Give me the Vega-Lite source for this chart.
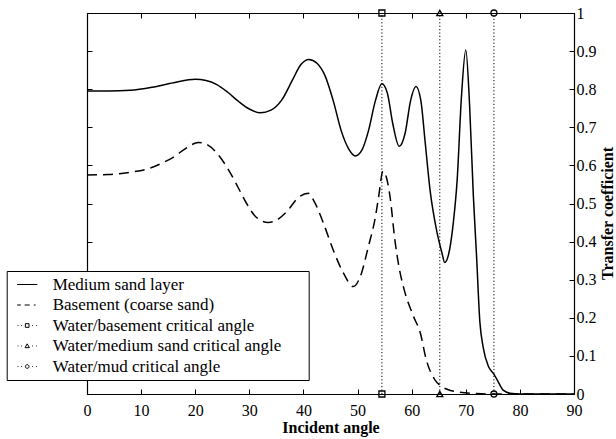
{
  "$schema": "https://vega.github.io/schema/vega-lite/v6.json",
  "width": 487,
  "height": 381,
  "autosize": {"type": "none"},
  "padding": {"left": 87, "top": 13, "right": 42, "bottom": 45},
  "background": "white",
  "config": {
    "view": {"stroke": null},
    "axis": {
      "grid": false,
      "tickSize": -5,
      "tickColor": "black",
      "tickWidth": 1,
      "domainColor": "black",
      "domainWidth": 1.2,
      "labelColor": "black",
      "titleColor": "black",
      "labelFont": "Liberation Serif",
      "titleFont": "Liberation Serif",
      "labelFontSize": 16,
      "titleFontSize": 16,
      "titleFontWeight": "bold",
      "labelFlush": false
    }
  },
  "datasets": {
    "sand": [
      {"angle": 0, "value": 0.795}, {"angle": 4, "value": 0.795}, {"angle": 8, "value": 0.797},
      {"angle": 12, "value": 0.805}, {"angle": 16, "value": 0.817}, {"angle": 20, "value": 0.826},
      {"angle": 22, "value": 0.823}, {"angle": 24, "value": 0.812}, {"angle": 26, "value": 0.792},
      {"angle": 28, "value": 0.768}, {"angle": 30, "value": 0.748}, {"angle": 32, "value": 0.738},
      {"angle": 34, "value": 0.745}, {"angle": 36, "value": 0.772}, {"angle": 38, "value": 0.825},
      {"angle": 39.5, "value": 0.864}, {"angle": 41, "value": 0.878}, {"angle": 42.5, "value": 0.868},
      {"angle": 44, "value": 0.835}, {"angle": 45.5, "value": 0.77}, {"angle": 47, "value": 0.69},
      {"angle": 48.3, "value": 0.645}, {"angle": 49.6, "value": 0.625}, {"angle": 50.8, "value": 0.64},
      {"angle": 52, "value": 0.69}, {"angle": 53.3, "value": 0.77}, {"angle": 54.5, "value": 0.814},
      {"angle": 55.5, "value": 0.79}, {"angle": 56.5, "value": 0.71}, {"angle": 57.7, "value": 0.65},
      {"angle": 58.8, "value": 0.685}, {"angle": 59.8, "value": 0.77}, {"angle": 60.8, "value": 0.807},
      {"angle": 61.7, "value": 0.77}, {"angle": 62.5, "value": 0.66}, {"angle": 63.4, "value": 0.535},
      {"angle": 64.6, "value": 0.43}, {"angle": 65.6, "value": 0.37}, {"angle": 66.1, "value": 0.345},
      {"angle": 66.8, "value": 0.365}, {"angle": 67.7, "value": 0.45}, {"angle": 68.4, "value": 0.56},
      {"angle": 69.2, "value": 0.78}, {"angle": 70, "value": 0.903}, {"angle": 70.7, "value": 0.76},
      {"angle": 71.4, "value": 0.52}, {"angle": 72, "value": 0.36}, {"angle": 72.6, "value": 0.19},
      {"angle": 73.2, "value": 0.124}, {"angle": 74.2, "value": 0.072}, {"angle": 75.1, "value": 0.054},
      {"angle": 76, "value": 0.032}, {"angle": 76.9, "value": 0.01}, {"angle": 78.2, "value": 0.002},
      {"angle": 80, "value": 0}, {"angle": 90, "value": 0}
    ],
    "basement": [
      {"angle": 0, "value": 0.575}, {"angle": 4, "value": 0.576}, {"angle": 8, "value": 0.582},
      {"angle": 11, "value": 0.59}, {"angle": 14, "value": 0.607}, {"angle": 16, "value": 0.622},
      {"angle": 18, "value": 0.642}, {"angle": 20.6, "value": 0.66}, {"angle": 22, "value": 0.656},
      {"angle": 24, "value": 0.632}, {"angle": 26.5, "value": 0.58}, {"angle": 28, "value": 0.54},
      {"angle": 29.5, "value": 0.5}, {"angle": 31, "value": 0.468}, {"angle": 33.5, "value": 0.45},
      {"angle": 35, "value": 0.456}, {"angle": 37, "value": 0.48}, {"angle": 39, "value": 0.515},
      {"angle": 40.9, "value": 0.527}, {"angle": 42, "value": 0.505}, {"angle": 43.7, "value": 0.448},
      {"angle": 45.5, "value": 0.378}, {"angle": 47.4, "value": 0.317}, {"angle": 49.2, "value": 0.282},
      {"angle": 50.5, "value": 0.308}, {"angle": 52, "value": 0.387}, {"angle": 53.3, "value": 0.465},
      {"angle": 53.9, "value": 0.518}, {"angle": 54.7, "value": 0.585}, {"angle": 55.3, "value": 0.57},
      {"angle": 56, "value": 0.518}, {"angle": 56.9, "value": 0.404}, {"angle": 57.7, "value": 0.33},
      {"angle": 58.5, "value": 0.28}, {"angle": 60.3, "value": 0.205}, {"angle": 61.6, "value": 0.16},
      {"angle": 62.7, "value": 0.09}, {"angle": 64.3, "value": 0.037}, {"angle": 65.6, "value": 0.019},
      {"angle": 67, "value": 0.01}, {"angle": 68.3, "value": 0.006}, {"angle": 72, "value": 0.001},
      {"angle": 75, "value": 0}, {"angle": 90, "value": 0}
    ],
    "critical": [
      {"angle": 54.5, "series": "Water/basement critical angle"},
      {"angle": 65.2, "series": "Water/medium sand critical angle"},
      {"angle": 75.2, "series": "Water/mud critical angle"}
    ],
    "legendItems": [
      {"series": "Medium sand layer"},
      {"series": "Basement (coarse sand)"},
      {"series": "Water/basement critical angle"},
      {"series": "Water/medium sand critical angle"},
      {"series": "Water/mud critical angle"}
    ]
  },
  "resolve": {
    "scale": {"shape": "independent"},
    "axis": {"x": "independent", "y": "independent"}
  },
  "layer": [
    {
      "data": {"name": "sand"},
      "mark": {"type": "line", "color": "black", "strokeWidth": 1.5, "interpolate": "monotone"},
      "encoding": {
        "x": {
          "field": "angle", "type": "quantitative",
          "scale": {"domain": [0, 90], "nice": false},
          "axis": {
            "orient": "bottom",
            "values": [0, 10, 20, 30, 40, 50, 60, 70, 80, 90],
            "title": "Incident angle",
            "labelPadding": 13,
            "titleY": 38,
            "titleBaseline": "alphabetic"
          }
        },
        "y": {
          "field": "value", "type": "quantitative",
          "scale": {"domain": [0, 1], "nice": false},
          "axis": {
            "orient": "right",
            "values": [0, 0.1, 0.2, 0.3, 0.4, 0.5, 0.6, 0.7, 0.8, 0.9, 1],
            "format": "~g",
            "title": "Transfer coefficient",
            "labelPadding": 7,
            "titleAngle": 270,
            "titleX": 33,
            "titleY": 200,
            "titleBaseline": "middle",
            "titleAlign": "center"
          }
        }
      }
    },
    {
      "data": {"name": "basement"},
      "mark": {"type": "line", "color": "black", "strokeWidth": 1.5, "strokeDash": [10, 6], "interpolate": "monotone"},
      "encoding": {
        "x": {
          "field": "angle", "type": "quantitative",
          "axis": {"orient": "top", "values": [0, 10, 20, 30, 40, 50, 60, 70, 80, 90], "labels": false, "title": null}
        },
        "y": {
          "field": "value", "type": "quantitative",
          "axis": {"orient": "left", "values": [0, 0.1, 0.2, 0.3, 0.4, 0.5, 0.6, 0.7, 0.8, 0.9, 1], "labels": false, "title": null}
        }
      }
    },
    {
      "data": {"name": "critical"},
      "mark": {"type": "rule", "color": "black", "strokeWidth": 1, "strokeDash": [1.2, 2.2]},
      "encoding": {
        "x": {"field": "angle", "type": "quantitative", "axis": null},
        "y": {"datum": 0, "type": "quantitative", "axis": null},
        "y2": {"datum": 1}
      }
    },
    {
      "data": {"name": "critical"},
      "mark": {"type": "point", "color": "black", "filled": false, "size": 36, "strokeWidth": 1.3, "opacity": 1},
      "encoding": {
        "x": {"field": "angle", "type": "quantitative", "axis": null},
        "y": {"datum": 1, "type": "quantitative", "axis": null},
        "shape": {
          "field": "series", "type": "nominal",
          "scale": {"domain": ["Water/basement critical angle", "Water/medium sand critical angle", "Water/mud critical angle"], "range": ["square", "triangle-up", "circle"]},
          "legend": null
        }
      }
    },
    {
      "data": {"name": "critical"},
      "mark": {"type": "point", "color": "black", "filled": false, "size": 36, "strokeWidth": 1.3, "opacity": 1},
      "encoding": {
        "x": {"field": "angle", "type": "quantitative", "axis": null},
        "y": {"datum": 0, "type": "quantitative", "axis": null},
        "shape": {
          "field": "series", "type": "nominal",
          "scale": {"domain": ["Water/basement critical angle", "Water/medium sand critical angle", "Water/mud critical angle"], "range": ["square", "triangle-up", "circle"]},
          "legend": null
        }
      }
    },
    {
      "data": {"name": "legendItems"},
      "mark": {"type": "point", "color": "black", "filled": false, "opacity": 0},
      "encoding": {
        "shape": {
          "field": "series", "type": "nominal",
          "scale": {
            "domain": ["Medium sand layer", "Basement (coarse sand)", "Water/basement critical angle", "Water/medium sand critical angle", "Water/mud critical angle"],
            "range": [
              "M-1.27,0L1.27,0",
              "M-1.27,0H-0.79M-0.32,0H0.32M0.83,0H1.05",
              "M-1.2,0h0.1M-0.74,0h0.1M0.63,0h0.1M1.1,0h0.1M-0.23,-0.23H0.23V0.23H-0.23Z",
              "M-1.2,0h0.1M-0.74,0h0.1M0.63,0h0.1M1.1,0h0.1M0,-0.27L0.27,0.21H-0.27Z",
              "M-1.2,0h0.1M-0.74,0h0.1M0.63,0h0.1M1.1,0h0.1M0.23,0L0.2,0.115L0.115,0.2L0,0.23L-0.115,0.2L-0.2,0.115L-0.23,0L-0.2,-0.115L-0.115,-0.2L0,-0.23L0.115,-0.2L0.2,-0.115Z"
            ]
          },
          "legend": {
            "title": "\u00a0",
            "titleOrient": "right",
            "titlePadding": 22,
            "titleFontSize": 2,
            "orient": "none",
            "legendX": -80.3,
            "legendY": 258,
            "direction": "vertical",
            "padding": 5,
            "strokeColor": "black",
            "fillColor": "white",
            "symbolSize": 256,
            "symbolStrokeWidth": 1,
            "symbolStrokeColor": "black",
            "symbolOpacity": 1,
            "symbolOffset": 7,
            "labelOffset": 17,
            "labelFont": "Liberation Serif",
            "labelFontSize": 17,
            "labelColor": "black",
            "labelLimit": 400,
            "rowPadding": 2.5
          }
        }
      }
    }
  ]
}
